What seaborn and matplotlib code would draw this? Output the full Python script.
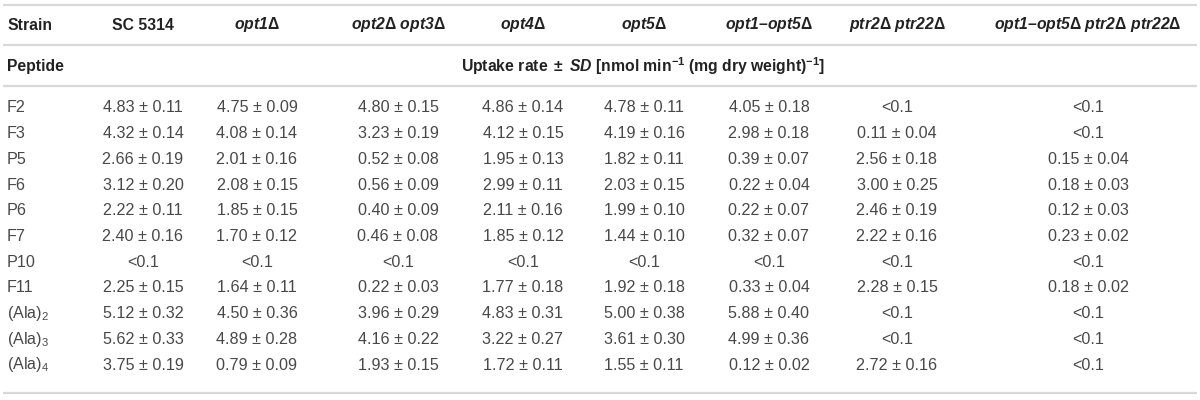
import numpy as np
import pandas as pd
import matplotlib
matplotlib.use("Agg")
import matplotlib.pyplot as plt
import seaborn as sns

# ---------------- data ----------------
strains = ["SC 5314", "opt1", "opt2 opt3", "opt4", "opt5", "opt1–opt5", "ptr2 ptr22", "opt1–opt5 ptr2 ptr22"]
strain_labels = [
    r"SC 5314",
    r"$\mathbfit{opt1}\mathbf{\Delta}$",
    r"$\mathbfit{opt2}\mathbf{\Delta}\ \mathbfit{opt3}\mathbf{\Delta}$",
    r"$\mathbfit{opt4}\mathbf{\Delta}$",
    r"$\mathbfit{opt5}\mathbf{\Delta}$",
    r"$\mathbfit{opt1}$–$\mathbfit{opt5}\mathbf{\Delta}$",
    r"$\mathbfit{ptr2}\mathbf{\Delta}\ \mathbfit{ptr22}\mathbf{\Delta}$",
    r"$\mathbfit{opt1}$–$\mathbfit{opt5}\mathbf{\Delta}\ \mathbfit{ptr2}\mathbf{\Delta}\ \mathbfit{ptr22}\mathbf{\Delta}$",
]
peptides = ["F2", "F3", "P5", "F6", "P6", "F7", "P10", "F11", "(Ala)$_2$", "(Ala)$_3$", "(Ala)$_4$"]

nan = np.nan
sc5314_mean = [4.83, 4.32, 2.66, 3.12, 2.22, 2.40, nan, 2.25, 5.12, 5.62, 3.75]
sc5314_sd   = [0.11, 0.14, 0.19, 0.20, 0.11, 0.16, nan, 0.15, 0.32, 0.33, 0.19]
opt1_mean   = [4.75, 4.08, 2.01, 2.08, 1.85, 1.70, nan, 1.64, 4.50, 4.89, 0.79]
opt1_sd     = [0.09, 0.14, 0.16, 0.15, 0.15, 0.12, nan, 0.11, 0.36, 0.28, 0.09]
opt23_mean  = [4.80, 3.23, 0.52, 0.56, 0.40, 0.46, nan, 0.22, 3.96, 4.16, 1.93]
opt23_sd    = [0.15, 0.19, 0.08, 0.09, 0.09, 0.08, nan, 0.03, 0.29, 0.22, 0.15]
opt4_mean   = [4.86, 4.12, 1.95, 2.99, 2.11, 1.85, nan, 1.77, 4.83, 3.22, 1.72]
opt4_sd     = [0.14, 0.15, 0.13, 0.11, 0.16, 0.12, nan, 0.18, 0.31, 0.27, 0.11]
opt5_mean   = [4.78, 4.19, 1.82, 2.03, 1.99, 1.44, nan, 1.92, 5.00, 3.61, 1.55]
opt5_sd     = [0.11, 0.16, 0.11, 0.15, 0.10, 0.10, nan, 0.18, 0.38, 0.30, 0.11]
opt15_mean  = [4.05, 2.98, 0.39, 0.22, 0.22, 0.32, nan, 0.33, 5.88, 4.99, 0.12]
opt15_sd    = [0.18, 0.18, 0.07, 0.04, 0.07, 0.07, nan, 0.04, 0.40, 0.36, 0.02]
ptr_mean    = [nan, 0.11, 2.56, 3.00, 2.46, 2.22, nan, 2.28, nan, nan, 2.72]
ptr_sd      = [nan, 0.04, 0.18, 0.25, 0.19, 0.16, nan, 0.15, nan, nan, 0.16]
all_mean    = [nan, nan, 0.15, 0.18, 0.12, 0.23, nan, 0.18, nan, nan, nan]
all_sd      = [nan, nan, 0.04, 0.03, 0.03, 0.02, nan, 0.02, nan, nan, nan]

means = [sc5314_mean, opt1_mean, opt23_mean, opt4_mean, opt5_mean, opt15_mean, ptr_mean, all_mean]
sds = [sc5314_sd, opt1_sd, opt23_sd, opt4_sd, opt5_sd, opt15_sd, ptr_sd, all_sd]
below_limit = "<0.1"

# ---------------- style ----------------
sns.set_theme(style="white")
plt.rcParams["font.family"] = ["Liberation Sans", "DejaVu Sans"]
plt.rcParams["mathtext.fontset"] = "custom"
plt.rcParams["mathtext.rm"] = "Liberation Sans"
plt.rcParams["mathtext.it"] = "Liberation Sans:italic"
plt.rcParams["mathtext.bf"] = "Liberation Sans:bold"
plt.rcParams["mathtext.bfit"] = "Liberation Sans:bold:italic"

text_color = "#484848"
head_color = "#222222"
rule_color = "#d8d8d8"
fs_head = 11.3
fs_body = 11.6

fig = plt.figure(figsize=(12, 4), dpi=100)
ax = fig.add_axes([0, 0, 1, 1])
ax.set_xlim(0, 1200)
ax.set_ylim(400, 0)
ax.axis("off")

col_x = [143, 257, 398, 523, 644, 769, 897, 1088]
label_x = 7
y_strain = 25
y_pep = 66
y_first = 108
pitch = 25.7
rules_y = [5, 45, 86, 393]

for y in rules_y:
    ax.hlines(y, 3, 1197, color=rule_color, lw=1.6)

ax.text(label_x, y_strain, "Strain", ha="left", va="center", fontsize=fs_head,
        fontweight="bold", color=head_color)
for x, lab in zip(col_x, strain_labels):
    ax.text(x, y_strain, lab, ha="center", va="center", fontsize=fs_head,
            fontweight="bold", color=head_color)

ax.text(label_x, y_pep, "Peptide", ha="left", va="center", fontsize=fs_head,
        fontweight="bold", color=head_color)
ax.text(643, y_pep,
        r"$\mathbf{Uptake\ rate\ \pm\ }\mathbfit{SD}\mathbf{\ [nmol\ min^{-1}\ (mg\ dry\ weight)^{-1}]}$",
        ha="center", va="center", fontsize=fs_head, color=head_color)

for i, pep in enumerate(peptides):
    y = y_first + i * pitch
    ax.text(label_x, y, pep, ha="left", va="center", fontsize=fs_body, color=text_color)
    for j in range(len(strains)):
        m, s = means[j][i], sds[j][i]
        txt = below_limit if np.isnan(m) else f"{m:.2f} ± {s:.2f}"
        ax.text(col_x[j], y, txt, ha="center", va="center", fontsize=fs_body, color=text_color)

fig.savefig("out.png", dpi=100, facecolor="white")
